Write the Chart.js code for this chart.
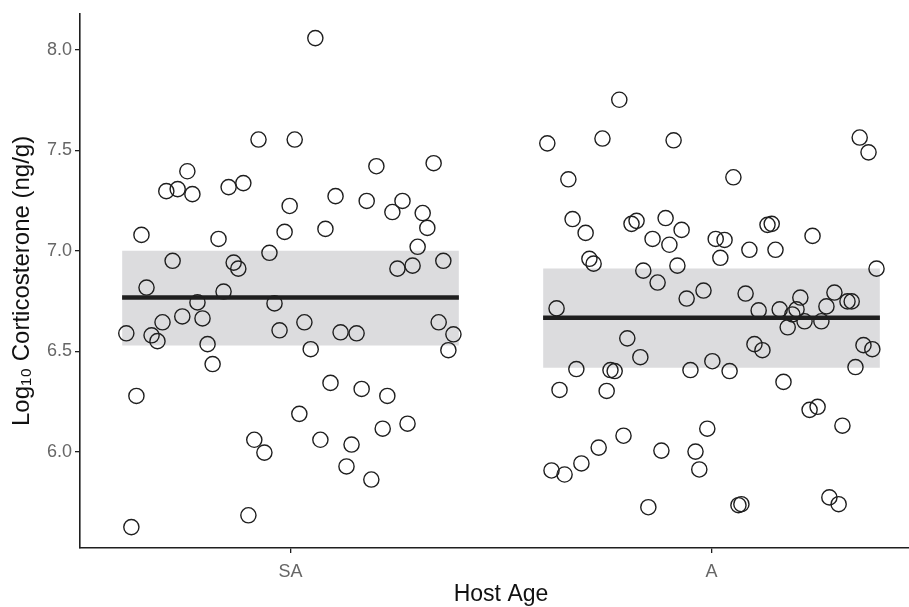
<!DOCTYPE html>
<html lang="en">
<head>
  <meta charset="UTF-8">
  <title>Corticosterone by host age</title>
  <script src="https://cdn.jsdelivr.net/npm/chart.js@4.4.2/dist/chart.umd.min.js"></script>
  <style>
    html, body { margin: 0; padding: 0; background: #fff; overflow: hidden; }
    #wrap { width: 922px; height: 607px; }
  </style>
</head>
<body>
  <!-- the panel runs a little past the right edge of the window, so it is cut off there -->
  <div id="wrap"><canvas id="cortChart" width="922" height="607"></canvas></div>

  <script>
    const categories = ['SA', 'A'];
    const yTicks = [6.0, 6.5, 7.0, 7.5, 8.0];

    // group means and the shaded interval around them
    const means = [6.767, 6.667];
    const bandLow = [6.528, 6.417];
    const bandHigh = [7.0, 6.912];

    // individual samples, jittered horizontally around their group
    const saJitter = [1.059, 0.924, 1.010, 0.755, 0.888, 0.853, 0.732, 0.705, 0.767, 1.340,
      1.204, 1.107, 1.181, 1.266, 0.998, 1.242, 1.314, 1.325, 1.083, 0.646,
      0.986, 0.829, 1.302, 0.720, 0.865, 0.876, 0.950, 1.363, 1.254, 1.290,
      0.658, 0.841, 0.779, 0.962, 0.743, 0.791, 0.696, 1.033, 0.670, 0.684,
      0.610, 0.803, 0.815, 0.974, 1.119, 1.157, 1.352, 1.387, 1.375, 1.048,
      1.095, 1.169, 1.230, 0.634, 1.021, 1.219, 1.278, 0.914, 0.938, 1.071,
      1.145, 1.133, 1.192, 0.900, 0.622];
    const saValues = [8.059, 7.554, 7.554, 7.396, 7.337, 7.317, 7.307, 7.297, 7.282, 7.436,
      7.421, 7.272, 7.248, 7.248, 7.223, 7.193, 7.188, 7.114, 7.109, 7.079,
      7.094, 7.059, 7.020, 6.950, 6.941, 6.911, 6.990, 6.950, 6.911, 6.926,
      6.817, 6.797, 6.743, 6.738, 6.673, 6.663, 6.644, 6.644, 6.579, 6.550,
      6.589, 6.535, 6.436, 6.604, 6.594, 6.589, 6.644, 6.584, 6.505, 6.510,
      6.342, 6.312, 6.277, 6.277, 6.188, 6.114, 6.139, 6.059, 5.995, 6.059,
      6.035, 5.926, 5.861, 5.683, 5.624];

    const aJitter = [1.781, 1.610, 1.741, 1.910, 2.352, 2.373, 1.660, 2.052, 1.670, 1.701,
      1.810, 1.822, 1.891, 1.929, 1.860, 1.900, 2.010, 2.031, 2.021, 2.090,
      2.133, 2.143, 2.152, 2.240, 1.710, 1.720, 1.838, 1.919, 2.392, 1.872,
      1.981, 1.941, 1.632, 2.081, 2.211, 2.292, 2.112, 2.162, 2.202, 2.192,
      2.273, 2.323, 2.333, 2.181, 2.221, 2.261, 1.800, 1.831, 2.102, 2.121,
      2.361, 2.382, 1.679, 1.760, 1.770, 1.950, 2.002, 2.043, 2.342, 1.639,
      1.751, 2.171, 2.233, 2.252, 2.311, 1.990, 1.791, 1.732, 1.691, 1.620,
      1.651, 1.881, 1.962, 1.971, 1.850, 2.064, 2.071, 2.280, 2.302];
    const aValues = [7.752, 7.535, 7.559, 7.550, 7.564, 7.490, 7.356, 7.366, 7.158, 7.089,
      7.134, 7.149, 7.163, 7.104, 7.059, 7.030, 7.059, 7.054, 6.965, 7.005,
      7.129, 7.134, 7.005, 7.074, 6.960, 6.936, 6.901, 6.926, 6.911, 6.842,
      6.802, 6.762, 6.713, 6.787, 6.767, 6.792, 6.703, 6.708, 6.708, 6.683,
      6.723, 6.748, 6.748, 6.619, 6.649, 6.649, 6.564, 6.470, 6.535, 6.505,
      6.530, 6.510, 6.411, 6.406, 6.401, 6.406, 6.450, 6.401, 6.421, 6.307,
      6.302, 6.347, 6.208, 6.223, 6.129, 6.114, 6.079, 6.020, 5.941, 5.906,
      5.886, 6.005, 6.000, 5.911, 5.723, 5.733, 5.738, 5.772, 5.738];

    const halfWidth = 0.4;
    const ink = '#1f1f1f';
    const bandFill = '#dcdcde';

    function toPoints(xs, ys) {
      return xs.map((x, i) => ({ x: x, y: ys[i] }));
    }
    function segment(center, y) {
      return [{ x: center - halfWidth, y: y }, { x: center + halfWidth, y: y }];
    }

    const datasets = [];
    categories.forEach((cat, i) => {
      const c = i + 1;
      datasets.push({
        label: cat + ' upper', data: segment(c, bandHigh[i]), showLine: true,
        borderWidth: 0, pointRadius: 0, backgroundColor: bandFill, fill: '+1', order: 5
      });
      datasets.push({
        label: cat + ' lower', data: segment(c, bandLow[i]), showLine: true,
        borderWidth: 0, pointRadius: 0, fill: false, order: 6
      });
    });
    categories.forEach((cat, i) => {
      datasets.push({
        label: cat + ' mean', data: segment(i + 1, means[i]), showLine: true,
        borderColor: ink, borderWidth: 4.5, pointRadius: 0, fill: false, order: 2
      });
    });
    datasets.push({
      label: 'SA', data: toPoints(saJitter, saValues),
      pointRadius: 7.6, borderColor: ink, borderWidth: 1.4,
      backgroundColor: 'rgba(0,0,0,0)', order: 1
    });
    datasets.push({
      label: 'A', data: toPoints(aJitter, aValues),
      pointRadius: 7.6, borderColor: ink, borderWidth: 1.4,
      backgroundColor: 'rgba(0,0,0,0)', order: 1
    });

    const font = "'Liberation Sans', Arial, sans-serif";

    new Chart(document.getElementById('cortChart'), {
      type: 'scatter',
      data: { datasets: datasets },
      options: {
        responsive: false,
        animation: false,
        layout: { autoPadding: false, padding: { top: 8, right: 0, left: 0, bottom: 0 } },
        plugins: { legend: { display: false }, tooltip: { enabled: false } },
        elements: { line: { tension: 0 } },
        scales: {
          x: {
            type: 'linear', min: 0.5, max: 2.5,
            afterFit: s => { s.height = 59; },
            afterBuildTicks: s => { s.ticks = categories.map((c, i) => ({ value: i + 1 })); },
            border: { display: true, color: ink, width: 1.6 },
            grid: { drawOnChartArea: false, color: ink, tickLength: 5, lineWidth: 1.3 },
            ticks: {
              padding: 8, color: '#666', font: { family: font, size: 18 },
              callback: v => categories[Math.round(v) - 1]
            },
            title: {
              display: true, text: 'Host Age', color: '#111',
              font: { family: font, size: 23, lineHeight: 1.1 }, padding: { top: 0, bottom: 0 }
            }
          },
          y: {
            type: 'linear', min: 5.52, max: 8.18,
            afterFit: s => { s.width = 80; },
            afterBuildTicks: s => { s.ticks = yTicks.map(v => ({ value: v })); },
            border: { display: true, color: ink, width: 1.6 },
            grid: { drawOnChartArea: false, color: ink, tickLength: 5, lineWidth: 1.3 },
            ticks: {
              padding: 3, color: '#666', font: { family: font, size: 18 },
              callback: v => v.toFixed(1)
            },
            title: {
              display: true, text: 'Log\u2081\u2080 Corticosterone (ng/g)', color: '#111',
              font: { family: font, size: 24 }, padding: { top: 8, bottom: 0 }
            }
          }
        }
      }
    });
  </script>
</body>
</html>
